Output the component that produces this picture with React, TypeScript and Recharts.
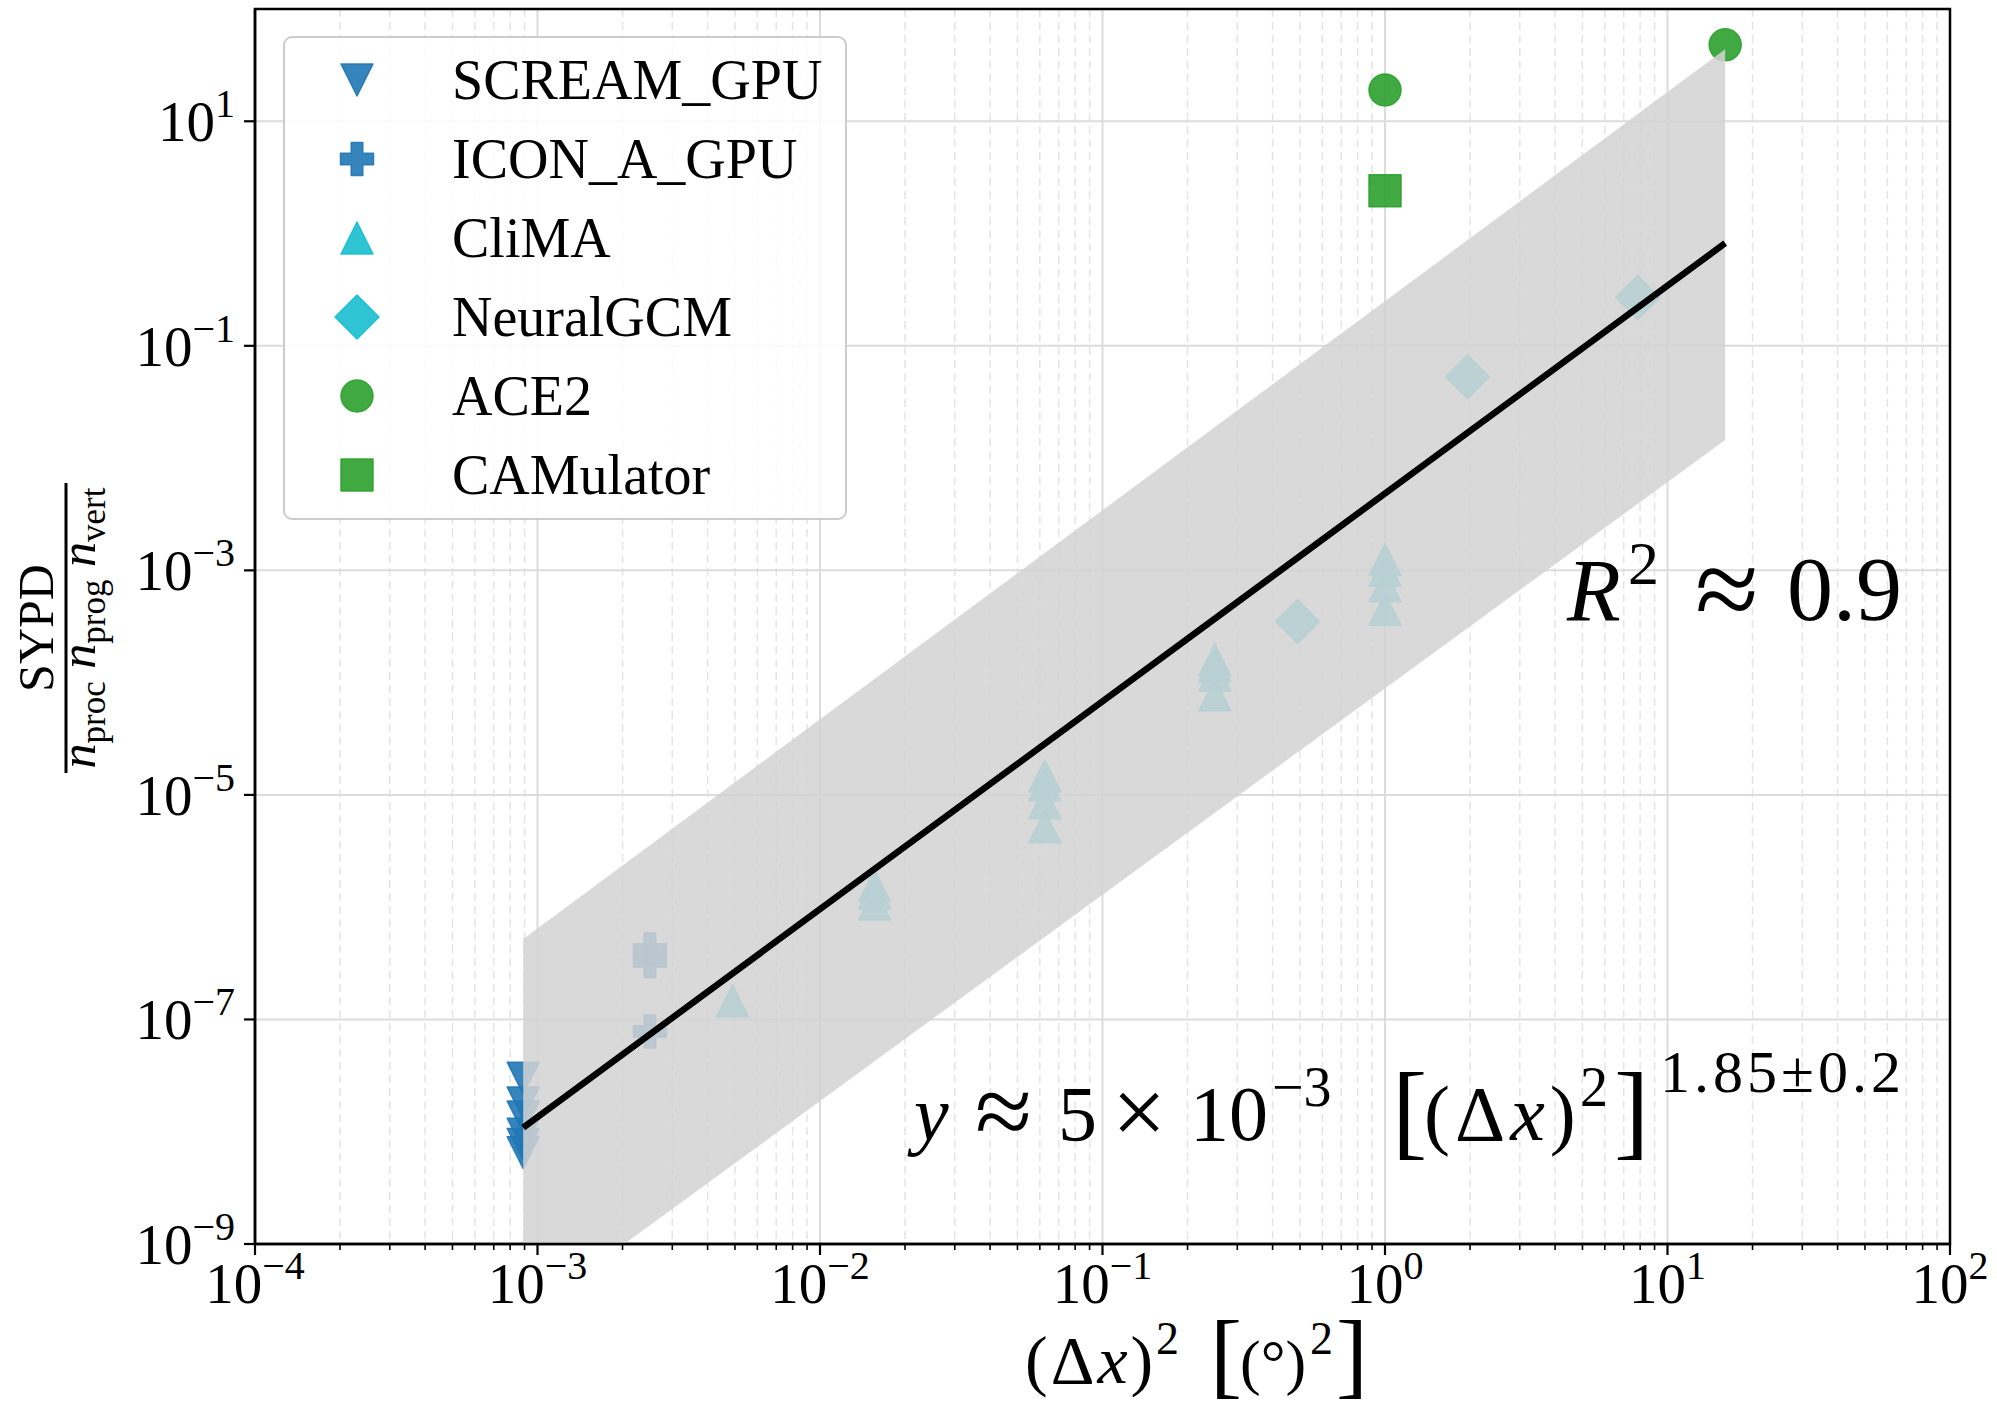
import React from "react";
import {
  ComposedChart,
  Scatter,
  Line,
  Area,
  XAxis,
  YAxis,
  CartesianGrid,
  Legend,
  ReferenceArea,
} from "recharts";

const W = 1997;
const H = 1408;
const FONT = '"Liberation Serif", "DejaVu Serif", serif';

const BLUE = "#1f77b4";
const CYAN = "#17becf";
const GREEN = "#2ca02c";

// ---- data ----
const screamX = [8.9e-4, 8.9e-4, 8.9e-4, 8.9e-4, 8.9e-4, 8.9e-4];
const screamY = [3.0e-8, 1.8e-8, 1.35e-8, 9.5e-9, 7.7e-9, 6.5e-9];

const iconX = [2.5e-3, 2.5e-3, 2.5e-3];
const iconY = [4.2e-7, 3.3e-7, 7.8e-8];

const climaX = [
  4.9e-3,
  0.0156, 0.0156, 0.0156,
  0.0625, 0.0625, 0.0625, 0.0625,
  0.25, 0.25, 0.25, 0.25,
  1, 1, 1, 1,
];
const climaY = [
  1.47e-7,
  1.55e-6, 1.34e-6, 1.07e-6,
  1.48e-5, 1.23e-5, 8.5e-6, 5.2e-6,
  1.6e-4, 1.41e-4, 1.17e-4, 7.8e-5,
  1.25e-3, 1.0e-3, 7.3e-4, 4.5e-4,
];

const neuralX = [0.49, 1.96, 7.84];
const neuralY = [3.5e-4, 0.053, 0.27];

const ace2X = [1, 16];
const ace2Y = [19, 48];

const camX = [1];
const camY = [2.4];

// fit line and its band, at the two ends of the data range
const fitX = [8.9e-4, 16];
const fitY = [1.09e-8, 0.82];
const bandLo = [2.2e-10, 0.0145];
const bandHi = [5.2e-7, 43.7];

const xMajor = [1e-4, 1e-3, 1e-2, 1e-1, 1, 10, 100];
const yTicks = [1e-9, 1e-7, 1e-5, 1e-3, 1e-1, 10];
const minorMult = [2, 3, 4, 5, 6, 7, 8, 9];

const xMinor: number[] = [];
xMajor.slice(0, -1).forEach((d) => minorMult.forEach((m) => xMinor.push(d * m)));
const xAllTicks = [...xMajor, ...xMinor].sort((a, b) => a - b);

const pts = (xs: number[], ys: number[]) => xs.map((x, i) => ({ x, y: ys[i] }));
const lineData = fitX.map((x, i) => ({ x, fit: fitY[i], band: [bandLo[i], bandHi[i]] }));

const expOf = (v: number) => {
  const e = Math.round(Math.log10(v));
  return e < 0 ? `\u2212${-e}` : `${e}`;
};

function Glyph({ kind, cx, cy, color }: { kind: string; cx: number; cy: number; color: string }) {
  const st = {
    fill: color,
    fillOpacity: 0.9,
    stroke: color,
    strokeOpacity: 0.9,
    strokeWidth: 1.5,
    strokeLinejoin: "round" as const,
  };
  const s = 16;
  if (kind === "tri-down")
    return <polygon {...st} points={`${cx - s},${cy - s} ${cx + s},${cy - s} ${cx},${cy + s}`} />;
  if (kind === "tri-up")
    return <polygon {...st} points={`${cx},${cy - s} ${cx - s},${cy + s} ${cx + s},${cy + s}`} />;
  if (kind === "plus") {
    const a = 16.5, t = 5.8;
    const p = [
      [-t, -a], [t, -a], [t, -t], [a, -t], [a, t], [t, t],
      [t, a], [-t, a], [-t, t], [-a, t], [-a, -t], [-t, -t],
    ].map(([dx, dy]) => `${cx + dx},${cy + dy}`).join(" ");
    return <polygon {...st} points={p} />;
  }
  if (kind === "diamond") {
    const d = 22;
    return <polygon {...st} points={`${cx},${cy - d} ${cx + d},${cy} ${cx},${cy + d} ${cx - d},${cy}`} />;
  }
  if (kind === "circle") return <circle {...st} cx={cx} cy={cy} r={16} />;
  return <rect {...st} x={cx - 16} y={cy - 16} width={32} height={32} />;
}

const shapeOf = (kind: string, color: string) => (p: any) =>
  <Glyph kind={kind} cx={p.cx} cy={p.cy} color={color} />;

const series = [
  { name: "SCREAM_GPU", kind: "tri-down", color: BLUE, data: pts(screamX, screamY) },
  { name: "ICON_A_GPU", kind: "plus", color: BLUE, data: pts(iconX, iconY) },
  { name: "CliMA", kind: "tri-up", color: CYAN, data: pts(climaX, climaY) },
  { name: "NeuralGCM", kind: "diamond", color: CYAN, data: pts(neuralX, neuralY) },
  { name: "ACE2", kind: "circle", color: GREEN, data: pts(ace2X, ace2Y) },
  { name: "CAMulator", kind: "square", color: GREEN, data: pts(camX, camY) },
];

const XTick = (props: any) => {
  const { x, y, payload } = props;
  const v = payload.value;
  const major = Math.abs(Math.log10(v) - Math.round(Math.log10(v))) < 1e-6;
  return (
    <g>
      <line x1={x} x2={x} y1={y} y2={y + (major ? 11 : 6)} stroke="#000" strokeWidth={major ? 2.2 : 1.6} />
      {major && (
        <text x={x} y={y + 59} textAnchor="middle" fontFamily={FONT} fontSize={57} fill="#000">
          10<tspan dy={-24} fontSize={40}>{expOf(v)}</tspan>
        </text>
      )}
    </g>
  );
};

const YTick = (props: any) => {
  const { x, y, payload } = props;
  return (
    <g>
      <line x1={x - 11} x2={x} y1={y} y2={y} stroke="#000" strokeWidth={2.2} />
      <text x={x - 20} y={y + 20} textAnchor="end" fontFamily={FONT} fontSize={57} fill="#000">
        10<tspan dy={-24} fontSize={40}>{expOf(payload.value)}</tspan>
      </text>
    </g>
  );
};

const LegendBox = () => (
  <div
    style={{
      width: 564,
      height: 484,
      background: "rgba(255,255,255,0.85)",
      border: "2.5px solid #cccccc",
      borderRadius: 9,
      boxSizing: "border-box",
    }}
  >
    <svg width={560} height={480}>
      {series.map((s, i) => {
        const cy = 42 + i * 79;
        return (
          <g key={s.name}>
            <Glyph kind={s.kind} cx={72} cy={cy} color={s.color} />
            <text x={167} y={cy + 19} fontFamily={FONT} fontSize={56} fill="#000">
              {s.name}
            </text>
          </g>
        );
      })}
    </svg>
  </div>
);

export default function App() {
  const YW = 240;
  const XH = 130;
  return (
    <div style={{ position: "absolute", left: 0, top: 0, width: W, height: H, background: "#fff" }}>
      <ComposedChart
        width={W}
        height={H}
        data={lineData}
        margin={{ top: 9, right: W - 1950, left: 255 - YW, bottom: H - 1244 - XH }}
      >
        <CartesianGrid horizontal={false} verticalValues={xMinor} stroke="#e4e4e4" strokeWidth={1.5} strokeDasharray="8 5" />
        <CartesianGrid vertical={false} horizontalValues={yTicks} stroke="#dcdcdc" strokeWidth={2} />
        <CartesianGrid horizontal={false} verticalValues={xMajor} stroke="#dcdcdc" strokeWidth={2} />
        <XAxis
          dataKey="x"
          type="number"
          scale="log"
          domain={[1e-4, 100]}
          allowDataOverflow
          ticks={xAllTicks}
          interval={0}
          tick={<XTick />}
          tickLine={false}
          tickSize={0}
          tickMargin={0}
          height={XH}
          axisLine={{ stroke: "#000", strokeWidth: 2.5 }}
        />
        <YAxis
          dataKey="y"
          type="number"
          scale="log"
          domain={[1e-9, 100]}
          allowDataOverflow
          ticks={yTicks}
          interval={0}
          tick={<YTick />}
          tickLine={false}
          tickSize={0}
          tickMargin={0}
          width={YW}
          axisLine={{ stroke: "#000", strokeWidth: 2.5 }}
        />
        {series.map((s) => (
          <Scatter
            key={s.name}
            name={s.name}
            data={s.data}
            shape={shapeOf(s.kind, s.color)}
            isAnimationActive={false}
          />
        ))}
        <Area
          dataKey="band"
          type="linear"
          stroke="none"
          fill="#d3d3d3"
          fillOpacity={0.86}
          isAnimationActive={false}
          zIndex={700}
        />
        <Line
          dataKey="fit"
          type="linear"
          stroke="#000"
          strokeWidth={6.5}
          dot={false}
          isAnimationActive={false}
          zIndex={800}
        />
        <ReferenceArea
          x1={1e-4}
          x2={100}
          y1={1e-9}
          y2={100}
          fill="none"
          stroke="#000"
          strokeWidth={2.5}
          ifOverflow="visible"
          zIndex={900}
        />
        <Legend
          layout="vertical"
          align="center"
          verticalAlign="middle"
          content={<LegendBox />}
          wrapperStyle={{ left: 283, top: 36, width: 564, height: 484 }}
        />
      </ComposedChart>

      <svg
        width={W}
        height={H}
        style={{ position: "absolute", left: 0, top: 0, pointerEvents: "none" }}
        fontFamily={FONT}
      >
        {/* y axis title: SYPD / (n_proc n_prog n_vert) */}
        <g transform="translate(66,628) rotate(-90)">
          <text x={0} y={-13} textAnchor="middle" fontSize={50}>SYPD</text>
          <line x1={-145} x2={145} y1={0} y2={0} stroke="#000" strokeWidth={3} />
          <text x={0} y={29} textAnchor="middle" fontSize={50}>
            <tspan fontStyle="italic">n</tspan>
            <tspan dy={10} fontSize={35}>proc</tspan>
            <tspan dy={-10} fontStyle="italic"> n</tspan>
            <tspan dy={10} fontSize={35}>prog</tspan>
            <tspan dy={-10} fontStyle="italic"> n</tspan>
            <tspan dy={10} fontSize={35}>vert</tspan>
          </text>
        </g>

        {/* x axis title */}
        <text fontSize={68}>
          <tspan x={1025} y={1383} letterSpacing={3}>(Δ</tspan>
          <tspan fontStyle="italic" letterSpacing={3}>x</tspan>
          <tspan>)</tspan>
          <tspan x={1156} y={1354} fontSize={46}>2</tspan>
          <tspan x={1210} y={1386} fontSize={96}>[</tspan>
          <tspan x={1240} y={1383} fontSize={62}>(°)</tspan>
          <tspan x={1310} y={1354} fontSize={46}>2</tspan>
          <tspan x={1336} y={1386} fontSize={96}>]</tspan>
        </text>

        {/* annotations */}
        <text fontSize={88}>
          <tspan x={1567} y={620} fontStyle="italic">R</tspan>
          <tspan x={1628} y={584} fontSize={62}>2</tspan>
          <tspan x={1695} y={628} fontSize={116}>≈</tspan>
          <tspan x={1787} y={620} fontSize={92}>0.9</tspan>
        </text>
        <text fontSize={78}>
          <tspan x={914} y={1140} fontStyle="italic">y</tspan>
          <tspan x={975} y={1146} fontSize={104}>≈</tspan>
          <tspan x={1058} y={1140}>5</tspan>
          <tspan x={1112} y={1144} fontSize={96}>×</tspan>
          <tspan x={1190} y={1140}>10</tspan>
          <tspan x={1272} y={1106} fontSize={56}>−3</tspan>
          <tspan x={1392} y={1146} fontSize={106}>[</tspan>
          <tspan x={1424} y={1140} letterSpacing={5}>(Δ</tspan>
          <tspan fontStyle="italic" letterSpacing={5}>x</tspan>
          <tspan>)</tspan>
          <tspan x={1580} y={1106} fontSize={56}>2</tspan>
          <tspan x={1614} y={1146} fontSize={106}>]</tspan>
          <tspan x={1660} y={1092} fontSize={60} letterSpacing={4}>1.85±0.2</tspan>
        </text>
      </svg>
    </div>
  );
}
